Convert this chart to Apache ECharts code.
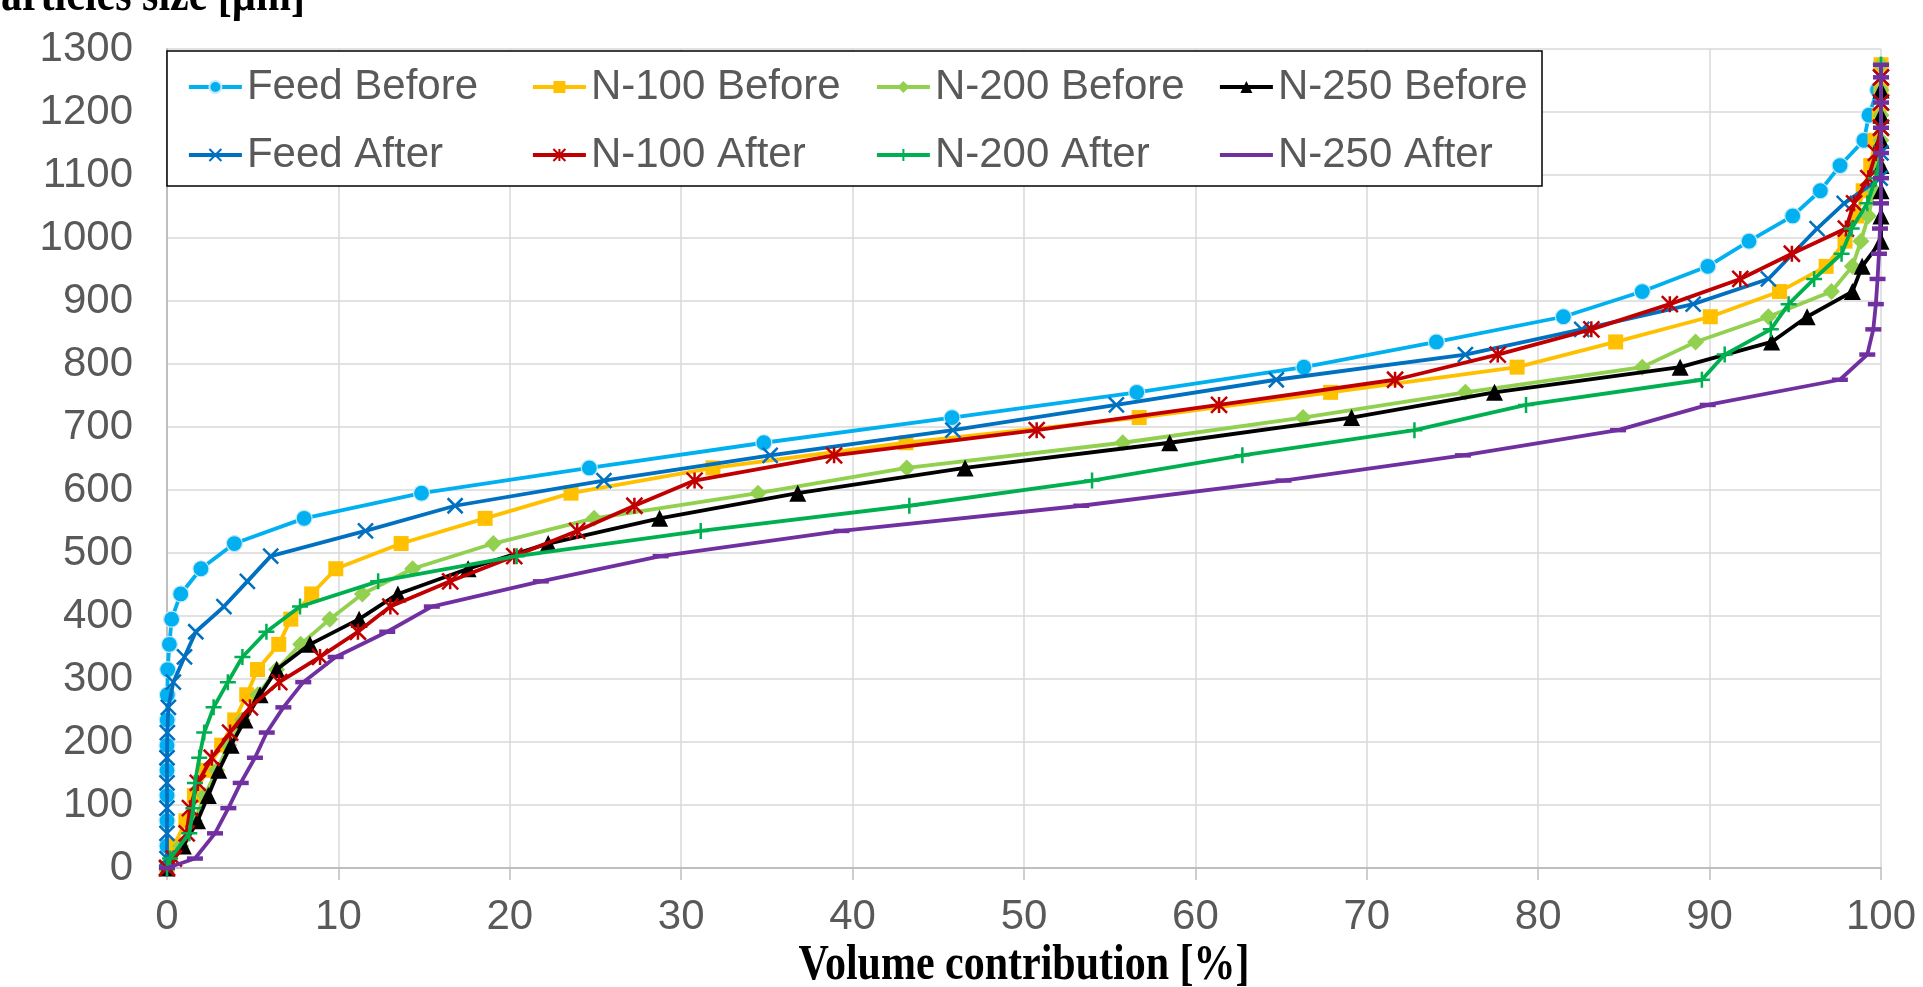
<!DOCTYPE html>
<html>
<head>
<meta charset="utf-8">
<script src="https://cdn.jsdelivr.net/npm/echarts@6/dist/echarts.min.js"></script>
<style>
html,body{margin:0;padding:0;background:#ffffff;}
#chart{width:1923px;height:987px;}
</style>
</head>
<body>
<div id="chart"></div>
<script>
// ---------- DATA ----------
const xAxisTitle = 'Volume contribution [%]';
const yAxisTitle = 'Particles size [µm]';
const xTickValues = [0, 10, 20, 30, 40, 50, 60, 70, 80, 90, 100];
const yTickValues = [0, 100, 200, 300, 400, 500, 600, 700, 800, 900, 1000, 1100, 1200, 1300];

const seriesNames = ['Feed Before', 'N-100 Before', 'N-200 Before', 'N-250 Before',
                     'Feed After', 'N-100 After', 'N-200 After', 'N-250 After'];

const feedBefore = [[0,0],[0,35],[0,75],[0,115],[0,155],[0,195],[0.01,235],[0.02,275],[0.04,315],[0.14,355],[0.27,395],[0.8,435],[1.98,475],[3.93,515],[8.0,555],[14.85,595],[24.64,635],[34.82,675],[45.8,715],[56.58,755],[66.33,795],[74.06,835],[81.47,875],[86.07,915],[89.9,955],[92.3,995],[94.85,1035],[96.46,1075],[97.61,1115],[99.0,1155],[99.3,1195],[99.8,1235],[100,1275]];
const n100Before = [[0,0],[0.4,35],[1.1,75],[1.6,115],[2.3,155],[3.19,195],[3.95,235],[4.65,275],[5.28,315],[6.52,355],[7.22,395],[8.44,435],[9.85,475],[13.66,515],[18.56,555],[23.57,595],[31.85,635],[43.11,675],[56.72,715],[67.89,755],[78.77,795],[84.52,835],[90.04,875],[94.08,915],[96.8,955],[97.9,995],[98.58,1035],[98.96,1075],[99.4,1115],[99.65,1155],[99.9,1195],[100,1235],[100,1275]];
const n200Before = [[0,0],[0.8,35],[1.6,75],[2.2,115],[2.9,155],[3.6,195],[4.4,235],[5.3,275],[6.4,315],[7.8,355],[9.5,395],[11.4,435],[14.33,475],[19.04,515],[24.92,555],[34.48,595],[43.16,635],[55.76,675],[66.28,715],[75.75,755],[86.07,795],[89.18,835],[93.43,875],[97.11,915],[98.33,955],[98.83,995],[99.26,1035],[99.6,1075],[99.8,1115],[100,1155],[100,1195],[100,1235],[100,1275]];
const n250Before = [[0,0],[0.95,35],[1.78,75],[2.41,115],[3.02,155],[3.74,195],[4.55,235],[5.43,275],[6.4,315],[8.34,355],[11.21,395],[13.47,435],[17.57,475],[22.24,515],[28.74,555],[36.8,595],[46.56,635],[58.5,675],[69.11,715],[77.45,755],[88.28,795],[93.62,835],[95.69,875],[98.33,915],[98.9,955],[100,995],[100,1035],[100,1075],[100,1115],[100,1155],[100,1195],[100,1235]];
const feedAfter = [[0,0],[0,15],[0,55],[0,95],[0,135],[0,175],[0.02,215],[0.08,255],[0.37,295],[1.02,335],[1.68,375],[3.32,415],[4.69,455],[6.05,495],[11.58,535],[16.81,575],[25.49,615],[35.19,655],[45.85,695],[55.39,735],[64.72,775],[75.75,815],[82.54,855],[89.04,895],[93.43,935],[96.27,1015],[97.85,1055],[99.95,1095],[100,1135],[100,1175],[100,1215],[100,1255]];
const n100After = [[0,0],[0.4,15],[1.15,55],[1.34,95],[1.8,135],[2.61,175],[3.68,215],[4.84,255],[6.55,295],[8.93,335],[11.14,375],[13.03,415],[16.52,455],[20.26,495],[23.93,535],[27.27,575],[30.78,615],[38.92,655],[50.74,695],[61.38,735],[71.65,775],[77.64,815],[83.1,855],[87.68,895],[91.79,935],[94.8,975],[97.95,1015],[98.43,1055],[99.26,1095],[99.7,1135],[100,1175],[100,1215],[100,1255]];
const n200After = [[0,0],[0.18,15],[1.3,55],[1.54,95],[1.63,135],[1.88,175],[2.17,215],[2.72,255],[3.55,295],[4.4,335],[5.8,375],[7.76,415],[12.32,455],[20.4,495],[31.14,535],[43.31,575],[53.97,615],[62.74,655],[72.78,695],[79.29,735],[89.55,775],[90.88,815],[93.57,855],[94.61,895],[96.1,935],[97.7,975],[98.29,1015],[99.2,1055],[99.7,1095],[100,1135],[100,1175],[100,1215],[100,1255],[100,1275]];
const n250After = [[0,0],[1.63,15],[2.8,55],[3.58,95],[4.3,135],[5.13,175],[5.82,215],[6.79,255],[7.95,295],[9.84,335],[12.85,375],[15.45,415],[21.81,455],[28.8,495],[39.35,535],[53.34,575],[65.14,615],[75.61,655],[84.66,695],[89.89,735],[97.6,775],[99.2,815],[99.55,855],[99.7,895],[99.8,935],[99.88,975],[99.94,1015],[100,1055],[100,1095],[100,1135],[100,1175],[100,1215],[100,1255],[100,1275]];

const seriesData = [feedBefore, n100Before, n200Before, n250Before, feedAfter, n100After, n200After, n250After];

// ---------- STYLE ----------
const colors = ['#00b0f0', '#ffc000', '#92d050', '#000000', '#0070c0', '#c00000', '#00b050', '#7030a0'];
const X_MARK = 'path://M0,0L10,10M10,0L0,10';
const ASTERISK = 'path://M0,0L10,10M10,0L0,10M5,0L5,10';
const PLUS = 'path://M5,0L5,10M0,5L10,5';
const DASH = 'path://M0,0M10,10M0,3.6L10,3.6L10,6.4L0,6.4Z';
const symbols = ['circle', 'rect', 'diamond', 'triangle', X_MARK, ASTERISK, PLUS, DASH];
const symbolSizes = [16, 15, 17, 17, 15, 16, 16, 16];
const strokeOnly = [false, false, false, false, true, true, true, false];

const axisFont = 'Liberation Sans';
const gridBox = {left: 167, top: 49, right: 42, bottom: 119};
const legendCols = [187, 531, 875, 1218];
const legendRows = [66, 134];

const series = seriesNames.map((name, i) => {
  const itemStyle = strokeOnly[i]
    ? {color: colors[i], borderColor: colors[i], borderWidth: 2.5}
    : (i === 0 ? {color: colors[i], borderColor: '#c4e9f7', borderWidth: 1.2} : {color: colors[i]});
  return {
    name: name,
    type: 'line',
    data: seriesData[i],
    symbol: symbols[i],
    symbolSize: symbolSizes[i],
    showAllSymbol: true,
    lineStyle: {color: colors[i], width: 3.8},
    itemStyle: itemStyle,
    emphasis: {disabled: true},
    z: 2 + i * 0.01
  };
});

const legends = seriesNames.map((name, i) => ({
  data: [{name: name}],
  left: legendCols[i % 4],
  top: legendRows[Math.floor(i / 4)],
  padding: 0,
  itemWidth: 53,
  itemHeight: 15,
  selectedMode: false,
  lineStyle: {width: 3.8},
  textStyle: {fontSize: 42, color: '#595959', fontFamily: axisFont},
  z: 6
}));

const chart = echarts.init(document.getElementById('chart'), null, {renderer: 'canvas'});
chart.setOption({
  animation: false,
  backgroundColor: '#ffffff',
  grid: gridBox,
  xAxis: {
    type: 'value',
    min: xTickValues[0],
    max: xTickValues[xTickValues.length - 1],
    interval: xTickValues[1] - xTickValues[0],
    axisLine: {show: true, lineStyle: {color: '#bfbfbf', width: 2}},
    axisTick: {show: true, length: 12, lineStyle: {color: '#bfbfbf', width: 1.5}},
    axisLabel: {fontSize: 42, color: '#595959', fontFamily: axisFont, margin: 28,
                formatter: function (v) { return String(v); }},
    splitLine: {show: true, lineStyle: {color: '#d9d9d9', width: 1.5}}
  },
  yAxis: {
    type: 'value',
    min: yTickValues[0],
    max: yTickValues[yTickValues.length - 1],
    interval: yTickValues[1] - yTickValues[0],
    axisLine: {show: true, lineStyle: {color: '#bfbfbf', width: 2}},
    axisTick: {show: false},
    axisLabel: {fontSize: 42, color: '#595959', fontFamily: axisFont, margin: 34,
                formatter: function (v) { return String(v); }},
    splitLine: {show: true, lineStyle: {color: '#d9d9d9', width: 1.5}}
  },
  legend: legends,
  graphic: [
    {type: 'rect', z: 5, shape: {x: 167, y: 51, width: 1375, height: 135},
     style: {fill: '#ffffff', stroke: '#000000', lineWidth: 1.5}},
    {type: 'text', z: 5, x: 305, y: -3, scaleX: 0.84,
     style: {text: yAxisTitle, font: 'bold 50px "Liberation Serif"', fill: '#000000', align: 'right', verticalAlign: 'middle'}},
    {type: 'text', z: 5, x: 1024, y: 966, scaleX: 0.84,
     style: {text: xAxisTitle, font: 'bold 50px "Liberation Serif"', fill: '#000000', align: 'center', verticalAlign: 'middle'}}
  ],
  series: series
});
</script>
</body>
</html>
